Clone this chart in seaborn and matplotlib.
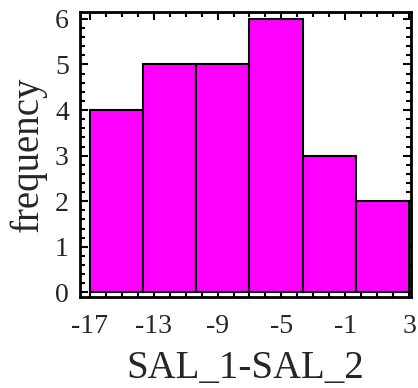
import matplotlib
matplotlib.use("Agg")
import matplotlib.pyplot as plt
import seaborn as sns
import numpy as np
from matplotlib.ticker import MultipleLocator

# Data
bin_edges = [-17.0, -13.6667, -10.3333, -7.0, -3.6667, -0.3333, 3.0]
counts = [4, 5, 5, 6, 3, 2]
x_ticks = [-17, -13, -9, -5, -1, 3]
y_ticks = [0, 1, 2, 3, 4, 5, 6]
x_label = "SAL_1-SAL_2"
y_label = "frequency"

centers = [(a + b) / 2 for a, b in zip(bin_edges[:-1], bin_edges[1:])]

sns.set_style("white")
plt.rcParams['font.family'] = ['Liberation Serif', 'DejaVu Serif']

fig = plt.figure(figsize=(4.18, 3.88), dpi=100)
ax = fig.add_axes([80/418, 1-297/388, 331/418, 285/388])

sns.histplot(x=centers, weights=counts, bins=bin_edges, ax=ax,
             color="#FF00FF", alpha=1, edgecolor="black", linewidth=1.5)

ax.set_xlim(-17.6, 3.1)
ax.set_ylim(-0.1, 6.15)
ax.set_xticks(x_ticks)
ax.set_xticklabels([str(t) for t in x_ticks])
ax.set_yticks(y_ticks)
ax.xaxis.set_minor_locator(MultipleLocator(1))
ax.yaxis.set_minor_locator(MultipleLocator(0.2))
ax.tick_params(which='both', direction='in', top=True, right=True,
               bottom=True, left=True, width=1.5, color='black')
ax.tick_params(which='major', length=6, labelsize=20)
ax.tick_params(axis='x', which='major', pad=12)
ax.tick_params(axis='y', which='major', pad=8)
ax.tick_params(which='minor', length=3.5)
for s in ax.spines.values():
    s.set_visible(True)
    s.set_color('black')
    s.set_linewidth(2)

ax.set_xlabel(x_label, fontsize=28, labelpad=8)
ax.set_ylabel(y_label, fontsize=28, labelpad=6)

fig.savefig("out.png", dpi=100)
